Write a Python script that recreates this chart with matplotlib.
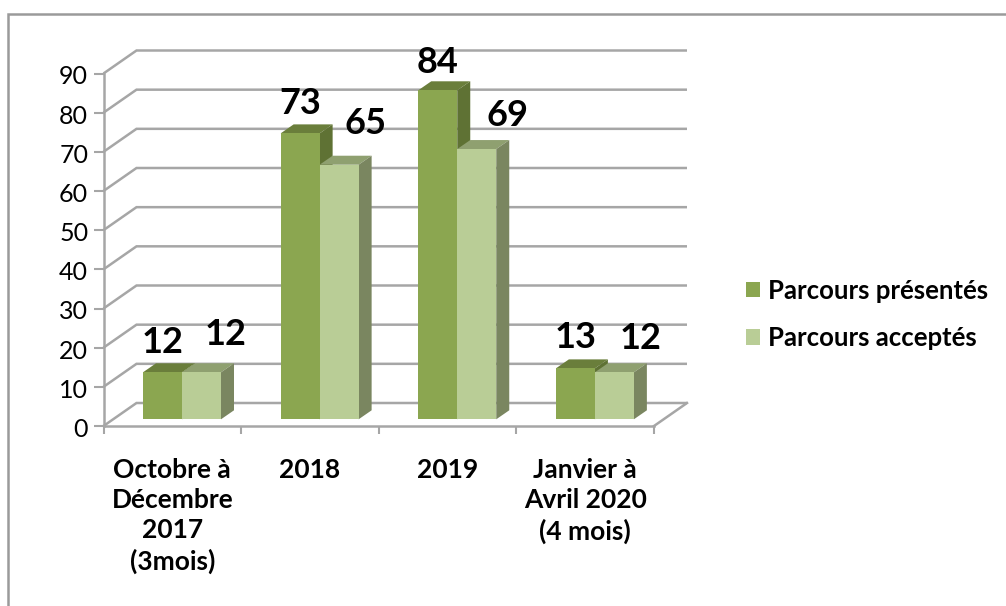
import matplotlib
matplotlib.use("Agg")
import matplotlib.pyplot as plt
from matplotlib.patches import Polygon, Patch, Rectangle
from matplotlib.transforms import ScaledTranslation

categories = ["Octobre à\nDécembre\n2017\n(3mois)", "2018", "2019", "Janvier à\nAvril 2020\n(4 mois)"]
presentes = [12, 73, 84, 13]
acceptes = [12, 65, 69, 12]
series_names = ["Parcours présentés", "Parcours acceptés"]
y_ticks = list(range(0, 100, 10))

# label offsets from bar top, in pixels (dx, dy)
off_p = [(0, 30), (0, 30), (0, 28), (0, 31)]
off_a = [(24, 38), (26, 41), (31, 34), (26, 34)]

W, H = 1006, 606
fig = plt.figure(figsize=(W / 100, H / 100), dpi=100)
plt.rcParams["font.family"] = ["Lato", "DejaVu Sans"]

L, R, Y0, Y90 = 103.5, 654.0, 426.0, 73.5
ax = fig.add_axes([L / W, 1 - Y0 / H, (R - L) / W, (Y0 - Y90) / H])
ax.set_xlim(0, 4)
ax.set_ylim(0, 90)
ppx = (R - L) / 4      # px per category
ppy = (Y0 - Y90) / 90  # px per value unit
GRAY = "#a6a6a6"

# outer frame
fig.add_artist(Rectangle((8 / W, -0.05), 1.1, 1 - 14 / H + 0.05, transform=fig.transFigure,
                         fill=False, ec="#9a9a9a", lw=1.8))

# back wall
wx, wy = 33 / ppx, 23 / ppy
for v in y_ticks:
    ax.plot([0, wx, 4 + wx], [v, v + wy, v + wy], color=GRAY, lw=1.8, clip_on=False, zorder=1,
            solid_joinstyle="miter", solid_capstyle="butt")
ax.plot([4, 4 + wx], [0, wy], color=GRAY, lw=1.8, clip_on=False, zorder=1)

# bars
bw = 39 / ppx
bx0 = 39.5 / ppx
lift = 6.7 / ppy
ddx, ddy = 13 / ppx, 9 / ppy


def bar3d(x, v, front, top, side):
    ax.bar(x, v, width=bw, bottom=lift, align="edge", color=front, lw=0, zorder=3, clip_on=False)
    t = lift + v
    ax.add_patch(Polygon([(x, t), (x + bw, t), (x + bw + ddx, t + ddy), (x + ddx, t + ddy)],
                         fc=top, ec="none", zorder=2.5, clip_on=False))
    ax.add_patch(Polygon([(x + bw, lift), (x + bw + ddx, lift + ddy), (x + bw + ddx, t + ddy), (x + bw, t)],
                         fc=side, ec="none", zorder=2.5, clip_on=False))


C_P = ("#8ba650", "#6a7e3b", "#5f7234")
C_A = ("#b9cd96", "#8fa070", "#7a8660")

for i, (p, a) in enumerate(zip(presentes, acceptes)):
    x = i + bx0
    bar3d(x, p, *C_P)
    ax.annotate(str(p), (x + bw / 2, lift + p), xytext=(off_p[i][0] * .72, off_p[i][1] * .72),
                textcoords="offset points", ha="center", va="center",
                fontsize=26, fontweight="bold", color="black", zorder=6, annotation_clip=False)
    bar3d(x + bw, a, *C_A)
    ax.annotate(str(a), (x + 1.5 * bw, lift + a), xytext=(off_a[i][0] * .72, off_a[i][1] * .72),
                textcoords="offset points", ha="center", va="center",
                fontsize=26, fontweight="bold", color="black", zorder=6, annotation_clip=False)

# axes
for s in ("top", "right"):
    ax.spines[s].set_visible(False)
for s in ("left", "bottom"):
    ax.spines[s].set_color(GRAY)
    ax.spines[s].set_linewidth(1.8)
ax.patch.set_alpha(0)
ax.set_yticks(y_ticks)
ax.tick_params(axis="y", length=7, width=1.5, color=GRAY, labelsize=18, pad=4, labelcolor="black")
down = ScaledTranslation(0, -1.5 / 100, fig.dpi_scale_trans)
for lab in ax.get_yticklabels():
    lab.set_transform(lab.get_transform() + down)
ax.set_xticks(range(5))
ax.set_xticklabels([])
ax.tick_params(axis="x", which="major", length=6, width=1.5, color=GRAY)
ax.set_xticks([i + 0.5 for i in range(4)], minor=True)
ax.set_xticklabels(categories, minor=True, fontsize=19, fontweight="bold", linespacing=1.31)
ax.tick_params(axis="x", which="minor", length=0, pad=23)

# legend
handles = [Patch(fc=C_P[0], label=series_names[0]), Patch(fc=C_A[0], label=series_names[1])]
fig.legend(handles=handles, loc="upper left", bbox_to_anchor=(743 / W, 1 - 276 / H), frameon=False,
           prop={"size": 18.5, "weight": "bold"}, handlelength=0.58, handleheight=0.58,
           handletextpad=0.31, labelspacing=0.92, borderpad=0.1, borderaxespad=0)

fig.savefig("out.png", dpi=100)
